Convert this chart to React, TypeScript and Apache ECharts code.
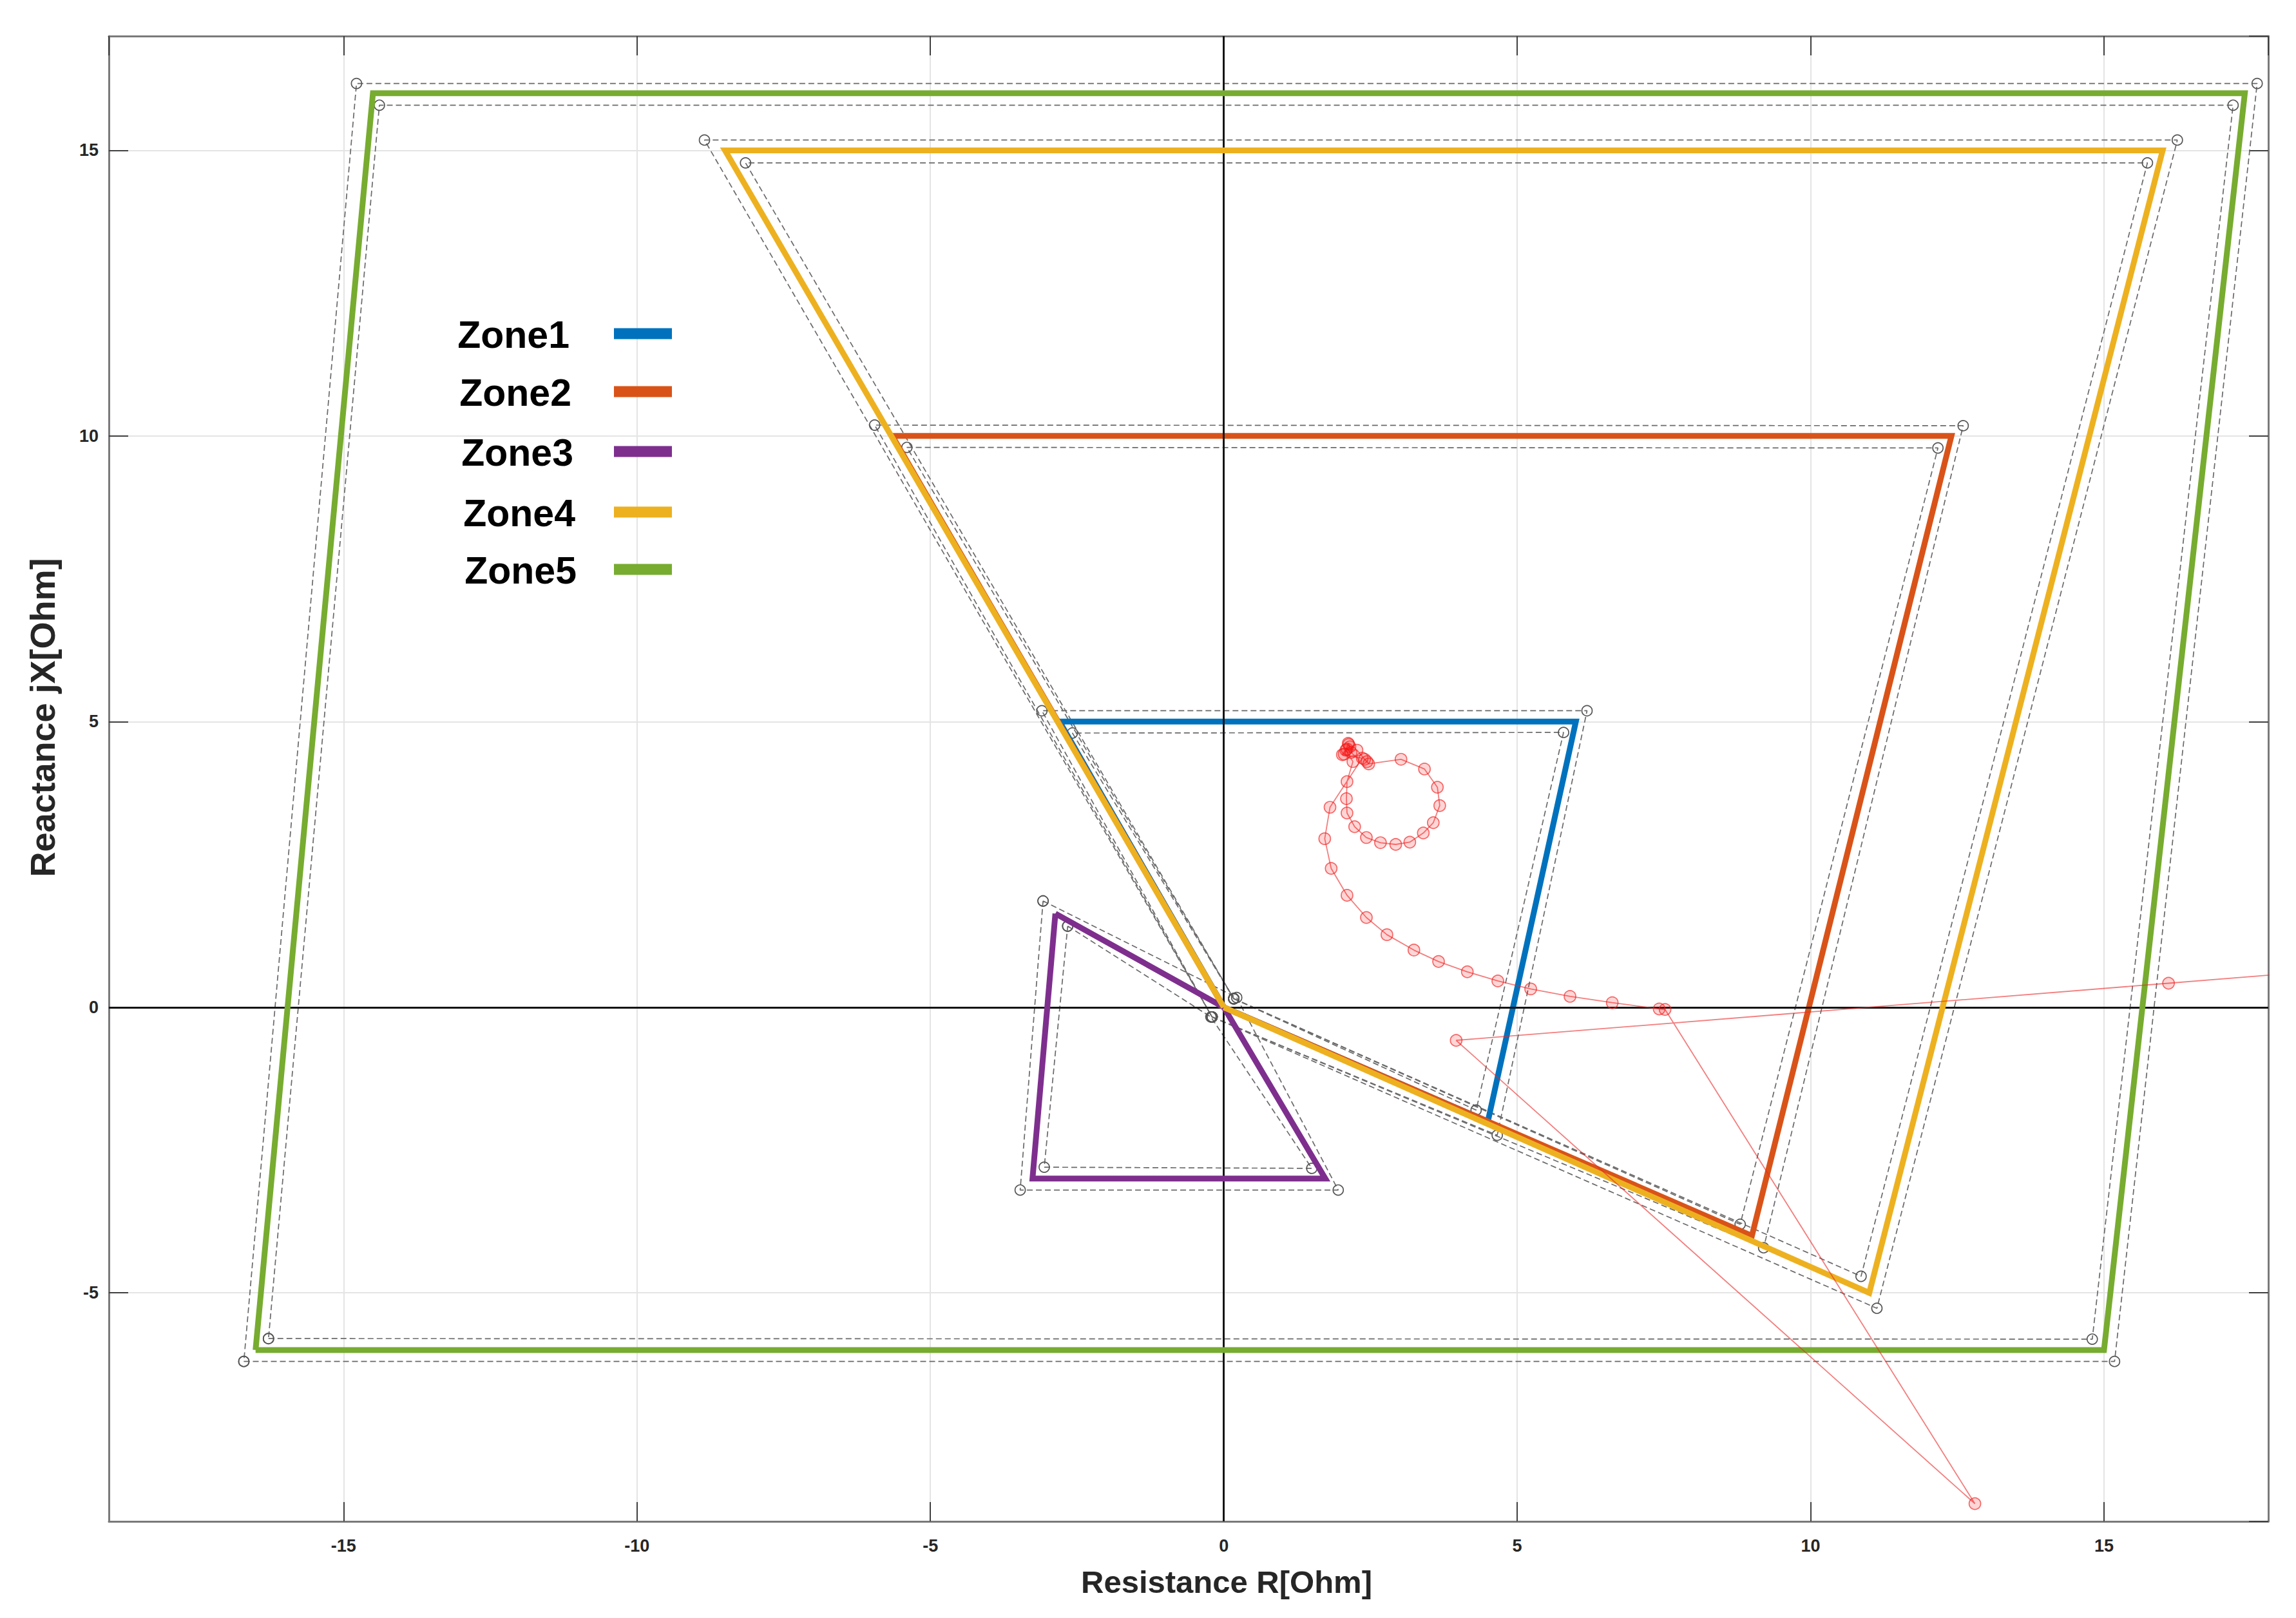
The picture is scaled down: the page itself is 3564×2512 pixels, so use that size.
import React, { useEffect, useRef } from "react";
import * as echarts from "echarts";

// ---- data (R [Ohm], jX [Ohm]) ----
const zoneNames = ["Zone1", "Zone2", "Zone3", "Zone4", "Zone5"];
const zoneColors = ["#0072BD", "#D95319", "#7E2F8E", "#EDB120", "#77AC30"];

const zone1 = [[0, 0], [4.5, -2], [6, 5], [-2.8, 5], [0, 0]];
const zone1Outer = [[-0.2, -0.17], [4.66, -2.24], [6.19, 5.19], [-3.1, 5.19], [-0.2, -0.17]];
const zone1Inner = [[0.17, 0.15], [4.3, -1.8], [5.79, 4.81], [-2.58, 4.8], [0.17, 0.15]];

const zone2 = [[0, 0], [9, -4], [12.4, 10], [-5.65, 10], [0, 0]];
const zone2Outer = [[-0.2, -0.17], [9.2, -4.21], [12.6, 10.18], [-5.95, 10.19], [-0.2, -0.17]];
const zone2Inner = [[0.17, 0.15], [8.8, -3.8], [12.17, 9.79], [-5.4, 9.8], [0.17, 0.15]];

const zone3 = [[-2.87, 1.64], [0, 0], [1.73, -3], [-3.26, -3], [-2.87, 1.64]];
const zone3Outer = [[-3.08, 1.86], [0.22, 0.17], [1.95, -3.2], [-3.47, -3.2], [-3.08, 1.86]];
const zone3Inner = [[-2.66, 1.42], [-0.22, -0.17], [1.5, -2.82], [-3.06, -2.8], [-2.66, 1.42]];

const zone4 = [[0, 0], [11, -5], [16, 15], [-8.5, 15], [0, 0]];
const zone4Outer = [[-0.2, -0.17], [11.13, -5.27], [16.25, 15.18], [-8.85, 15.18], [-0.2, -0.17]];
const zone4Inner = [[0.17, 0.15], [10.86, -4.71], [15.74, 14.78], [-8.15, 14.78], [0.17, 0.15]];

const zone5 = [[-16.5, -6], [15, -6], [17.4, 16], [-14.5, 16], [-16.5, -6]];
const zone5Outer = [[-16.7, -6.2], [15.18, -6.2], [17.61, 16.17], [-14.78, 16.17], [-16.7, -6.2]];
const zone5Inner = [[-16.28, -5.8], [14.8, -5.81], [17.2, 15.79], [-14.39, 15.79], [-16.28, -5.8]];

const trajectory = [
  [2.05, 4.43], [2.12, 4.62], [2.17, 4.46], [2.1, 4.52], [2.27, 4.5], [2.4, 4.34], [2.44, 4.3], [2.47, 4.26],
  [3.02, 4.34], [3.42, 4.17], [3.64, 3.85], [3.68, 3.53], [3.57, 3.23], [3.4, 3.05],
  [3.17, 2.89], [2.93, 2.85], [2.67, 2.88], [2.43, 2.97], [2.23, 3.16], [2.1, 3.4],
  [2.09, 3.65], [2.1, 3.95],
  [2.2, 4.3], [2.08, 4.5], [2.15, 4.56], [2.13, 4.6], [2.02, 4.42], [2.36, 4.36],
  [1.81, 3.5], [1.72, 2.95], [1.83, 2.43], [2.1, 1.96], [2.43, 1.57], [2.78, 1.27],
  [3.24, 1.0], [3.66, 0.8], [4.15, 0.62], [4.67, 0.46], [5.23, 0.32], [5.9, 0.19],
  [6.62, 0.08], [7.42, -0.03], [7.52, -0.04],
  [12.8, -8.69], [3.96, -0.58], [16.1, 0.42], [27.5, 1.37],
];

const xMin = -19;
const xMax = 17.8;
const yMin = -9;
const yMax = 17;

const zones = [zone1, zone2, zone3, zone4, zone5];
const outers = [zone1Outer, zone2Outer, zone3Outer, zone4Outer, zone5Outer];
const inners = [zone1Inner, zone2Inner, zone3Inner, zone4Inner, zone5Inner];

const FONT = '"Liberation Sans", Arial, Helvetica, sans-serif';

function offsetSeries(name: string, data: number[][]) {
  return {
    name,
    type: "line",
    data,
    symbol: "circle",
    symbolSize: 16,
    showSymbol: true,
    lineStyle: { color: "#6a6a6a", width: 1.7, type: [9, 5] },
    itemStyle: { color: "rgba(0,0,0,0)", borderColor: "#555", borderWidth: 1.7 },
    z: 2,
    silent: true,
  };
}

export default function App() {
  const ref = useRef<HTMLDivElement>(null);
  useEffect(() => {
    document.body.style.margin = "0";
    const chart = echarts.init(ref.current!, null, { renderer: "svg" });

    const series: any[] = [];
    series.push({
      name: "axes0",
      type: "line",
      data: [],
      markLine: {
        silent: true,
        symbol: "none",
        label: { show: false },
        lineStyle: { color: "#151515", width: 3, type: "solid" },
        data: [{ xAxis: 0 }, { yAxis: 0 }],
      },
      z: 1,
    });
    zones.forEach((_, i) => {
      series.push(offsetSeries(zoneNames[i] + " outer", outers[i]));
      series.push(offsetSeries(zoneNames[i] + " inner", inners[i]));
    });
    zones.forEach((z, i) => {
      series.push({
        name: zoneNames[i],
        type: "line",
        data: z,
        showSymbol: false,
        symbol: "none",
        lineStyle: { color: zoneColors[i], width: 9, join: "miter" },
        itemStyle: { color: zoneColors[i] },
        z: 3 + i,
      });
    });
    series.push({
      name: "Impedance trajectory",
      type: "line",
      data: trajectory,
      symbol: "circle",
      symbolSize: 18,
      showSymbol: true,
      lineStyle: { color: "rgba(235,40,40,0.6)", width: 1.8 },
      itemStyle: { color: "rgba(255,0,0,0.16)", borderColor: "rgba(240,30,30,0.65)", borderWidth: 1.7 },
      z: 10,
    });

    const legendGraphics: any[] = [];
    const legendY = [518, 608, 701, 795, 884];
    const legendTextRight = [884, 887, 890, 893, 895];
    zoneNames.forEach((n, i) => {
      legendGraphics.push({
        type: "text",
        x: legendTextRight[i],
        y: legendY[i] + 2,
        style: {
          text: n,
          font: `bold 59px ${FONT}`,
          fill: "#000",
          textAlign: "right",
          textVerticalAlign: "middle",
        },
        z: 20,
      });
      legendGraphics.push({
        type: "rect",
        shape: { x: 953, y: legendY[i] - 8.5, width: 90, height: 17 },
        style: { fill: zoneColors[i] },
        z: 20,
      });
    });

    const axisLabelStyle = {
      fontSize: 27,
      fontWeight: "bold",
      color: "#262626",
      fontFamily: FONT,
      showMinLabel: false,
      showMaxLabel: false,
    };

    const option: any = {
      animation: false,
      backgroundColor: "#ffffff",
      grid: { left: 169, right: 43, top: 56, bottom: 150, containLabel: false },
      xAxis: [
        {
          type: "value",
          min: xMin,
          max: xMax,
          splitNumber: 8,
          minInterval: 5,
          maxInterval: 5,
          axisLine: { show: true, onZero: false, lineStyle: { color: "#7a7a7a", width: 3 } },
          axisTick: { show: true, inside: true, length: 30, lineStyle: { color: "#404040", width: 2 } },
          axisLabel: { ...axisLabelStyle, margin: 24 },
          splitLine: { show: true, lineStyle: { color: "#e4e4e4", width: 2 } },
        },
        {
          type: "value",
          position: "top",
          min: xMin,
          max: xMax,
          splitNumber: 8,
          minInterval: 5,
          maxInterval: 5,
          axisLine: { show: true, onZero: false, lineStyle: { color: "#7a7a7a", width: 3 } },
          axisTick: { show: true, inside: true, length: 30, lineStyle: { color: "#404040", width: 2 } },
          axisLabel: { show: false },
          splitLine: { show: false },
        },
      ],
      yAxis: [
        {
          type: "value",
          min: yMin,
          max: yMax,
          splitNumber: 6,
          minInterval: 5,
          maxInterval: 5,
          axisLine: { show: true, onZero: false, lineStyle: { color: "#7a7a7a", width: 3 } },
          axisTick: { show: true, inside: true, length: 30, lineStyle: { color: "#404040", width: 2 } },
          axisLabel: { ...axisLabelStyle, margin: 16 },
          splitLine: { show: true, lineStyle: { color: "#e4e4e4", width: 2 } },
        },
        {
          type: "value",
          position: "right",
          min: yMin,
          max: yMax,
          splitNumber: 6,
          minInterval: 5,
          maxInterval: 5,
          axisLine: { show: true, onZero: false, lineStyle: { color: "#7a7a7a", width: 3 } },
          axisTick: { show: true, inside: true, length: 30, lineStyle: { color: "#404040", width: 2 } },
          axisLabel: { show: false },
          splitLine: { show: false },
        },
      ],
      series,
      graphic: [
        ...legendGraphics,
        {
          type: "text",
          x: 1904,
          y: 2456,
          style: {
            text: "Resistance R[Ohm]",
            font: `bold 49px ${FONT}`,
            fill: "#262626",
            textAlign: "center",
            textVerticalAlign: "middle",
          },
        },
        {
          type: "text",
          x: 66,
          y: 1114,
          rotation: Math.PI / 2,
          style: {
            text: "Reactance jX[Ohm]",
            font: `bold 54px ${FONT}`,
            fill: "#262626",
            textAlign: "center",
            textVerticalAlign: "middle",
          },
        },
      ],
    };
    chart.setOption(option);
    return () => chart.dispose();
  }, []);
  return <div ref={ref} style={{ width: 3564, height: 2512 }} />;
}
